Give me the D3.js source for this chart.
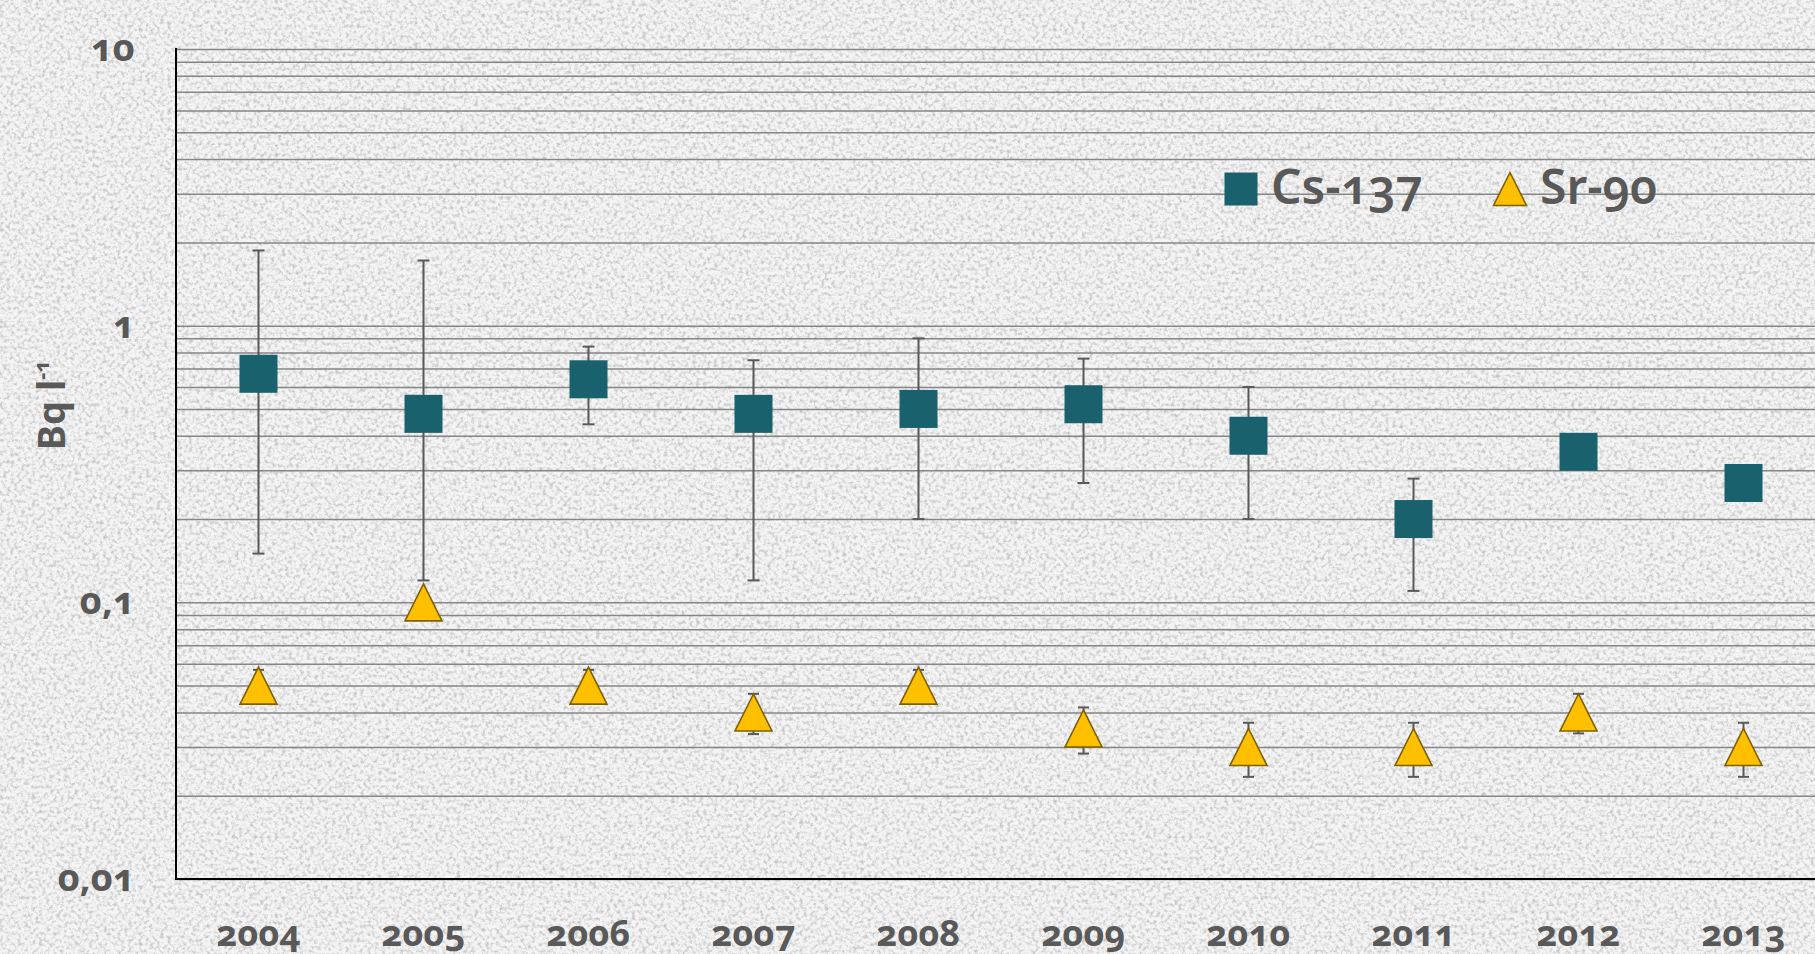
<!DOCTYPE html>
<html>
<head>
<meta charset="utf-8">
<script src="https://cdn.jsdelivr.net/npm/d3@7"></script>
<style>
  body { margin: 0; background: #ededed; }
  svg { display: block; }
  text { font-family: "Noto Sans", "Open Sans", sans-serif; fill: #595959; font-variant-numeric: oldstyle-nums; }
</style>
</head>
<body>
<div class="chart"></div>
<script>
// chart values
let years = [2004, 2005, 2006, 2007, 2008, 2009, 2010, 2011, 2012, 2013]
let cs137 = [0.67, 0.48, 0.64, 0.48, 0.50, 0.52, 0.40, 0.20, 0.35, 0.27]
let cs137Low = [0.15, 0.12, 0.44, 0.12, 0.20, 0.27, 0.20, 0.11, null, null]
let cs137High = [1.87, 1.72, 0.84, 0.75, 0.90, 0.76, 0.60, 0.28, null, null]
let sr90 = [0.050, 0.10, 0.050, 0.040, 0.050, 0.035, 0.030, 0.030, 0.040, 0.030]
let sr90Low = [0.043, null, 0.043, 0.0334, 0.043, 0.0284, 0.0234, 0.0234, 0.0336, 0.0234]
let sr90High = [0.057, null, 0.057, 0.0467, 0.057, 0.0417, 0.0367, 0.0367, 0.0467, 0.0367]
let yTicks = [0.01, 0.1, 1, 10]
let seriesNames = ["Cs-137", "Sr-90"]

let w = 1815
let h = 954

let svg = d3.select(".chart")
            .append("svg")
            .attr("width", w)
            .attr("height", h)

// grainy paper background
let defs = svg.append("defs")
let grain = defs.append("filter").attr("id", "grain")
  .attr("x", 0).attr("y", 0).attr("width", "100%").attr("height", "100%")
grain.append("feTurbulence")
  .attr("type", "fractalNoise")
  .attr("baseFrequency", 0.28)
  .attr("numOctaves", 3)
  .attr("seed", 7)
grain.append("feColorMatrix")
  .attr("type", "matrix")
  .attr("values", "0 0 0 0 0.55  0 0 0 0 0.55  0 0 0 0 0.55  2.6 0 0 0 -1.15")

svg.append("rect").attr("width", w).attr("height", h).attr("fill", "#f4f4f4")
svg.append("rect").attr("width", w).attr("height", h).attr("filter", "url(#grain)")

// scales; the plot runs off the right edge like in the original
let x = d3.scaleBand()
  .domain(years)
  .range([176, 1826])

let y = d3.scaleLog()
  .domain([0.01, 10])
  .range([879, 49])

// every 1..9 multiple gets a grid line
let gridValues = []
yTicks.slice(0, -1).forEach(d => {
  for (let k = 1; k < 10; k++) gridValues.push(d * k)
})
gridValues.push(10)

svg.append("g")
  .attr("transform", "translate(176,0)")
  .call(d3.axisLeft(y).tickValues(gridValues).tickSize(-(w - 176)).tickFormat(""))
  .call(g => g.select(".domain").remove())
  .call(g => g.selectAll(".tick line").attr("stroke", "#868686").attr("stroke-width", 1.5))

// y tick labels
svg.append("g")
  .attr("transform", "translate(176,0)")
  .call(d3.axisLeft(y).tickValues(yTicks).tickSize(0).tickPadding(41)
    .tickFormat(d => String(d).replace(".", ",")))
  .call(g => g.select(".domain").remove())
  .call(g => g.selectAll("text")
    .attr("font-size", 38).attr("font-weight", "bold")
    .attr("font-family", null).attr("fill", null).attr("dy", "0.3em"))

// x axis
svg.append("g")
  .attr("transform", "translate(0,879)")
  .call(d3.axisBottom(x).tickSize(0).tickPadding(67))
  .call(g => g.select(".domain").remove())
  .call(g => g.selectAll("text")
    .attr("font-size", 36).attr("font-weight", "bold")
    .attr("font-family", null).attr("fill", null).attr("dy", 0))

// axis lines
svg.append("line").attr("x1", 176).attr("x2", 176).attr("y1", 48).attr("y2", 880)
  .attr("stroke", "#000").attr("stroke-width", 2)
svg.append("line").attr("x1", 175).attr("x2", w).attr("y1", 879).attr("y2", 879)
  .attr("stroke", "#000").attr("stroke-width", 2)

// y axis title
let title = svg.append("text")
  .attr("transform", "translate(65,405) rotate(-90)")
  .attr("text-anchor", "middle")
  .attr("font-size", 38)
  .attr("font-weight", "bold")
title.append("tspan").text("Bq l")
title.append("tspan").attr("font-size", 22).attr("dy", -16).text("-1")

let cx = d => x(d) + x.bandwidth() / 2

function errorBars(values, lows, highs, cap) {
  let g = svg.append("g").attr("stroke", "#595959").attr("stroke-width", 2)
  years.forEach((yr, i) => {
    if (lows[i] == null) return
    g.append("line").attr("x1", cx(yr)).attr("x2", cx(yr))
      .attr("y1", y(highs[i])).attr("y2", y(lows[i]))
    g.append("line").attr("x1", cx(yr) - cap).attr("x2", cx(yr) + cap)
      .attr("y1", y(highs[i])).attr("y2", y(highs[i]))
    g.append("line").attr("x1", cx(yr) - cap).attr("x2", cx(yr) + cap)
      .attr("y1", y(lows[i])).attr("y2", y(lows[i]))
  })
}
errorBars(sr90, sr90Low, sr90High, 5.5)
errorBars(cs137, cs137Low, cs137High, 6)

let tri = s => "M0," + (-s / 2) + "L" + (s / 2) + "," + (s / 2) + "L" + (-s / 2) + "," + (s / 2) + "Z"

// Cs-137 squares
svg.append("g").selectAll("rect")
  .data(years)
  .enter()
  .append("rect")
  .attr("x", (d, i) => cx(d) - 19)
  .attr("y", (d, i) => y(cs137[i]) - 19)
  .attr("width", 38)
  .attr("height", 38)
  .attr("fill", "#1a616e")

// Sr-90 triangles
svg.append("g").selectAll("path")
  .data(years)
  .enter()
  .append("path")
  .attr("d", tri(37))
  .attr("transform", (d, i) => "translate(" + cx(d) + "," + y(sr90[i]) + ")")
  .attr("fill", "#ffc000")
  .attr("stroke", "#7f6000")
  .attr("stroke-width", 1.6)

// legend
let legendX = [1241, 1510]
let legend = svg.append("g").selectAll("g")
  .data(seriesNames)
  .enter()
  .append("g")
  .attr("transform", (d, i) => "translate(" + legendX[i] + ",189)")
legend.filter((d, i) => i == 0).append("rect")
  .attr("x", -16.5).attr("y", -16.5).attr("width", 33).attr("height", 33)
  .attr("fill", "#1a616e")
legend.filter((d, i) => i == 1).append("path")
  .attr("d", tri(33))
  .attr("fill", "#ffc000").attr("stroke", "#7f6000").attr("stroke-width", 1.6)
legend.append("text")
  .attr("x", 30)
  .attr("y", 15)
  .attr("font-size", 48)
  .attr("font-weight", 600)
  .text(d => d)
</script>
</body>
</html>
